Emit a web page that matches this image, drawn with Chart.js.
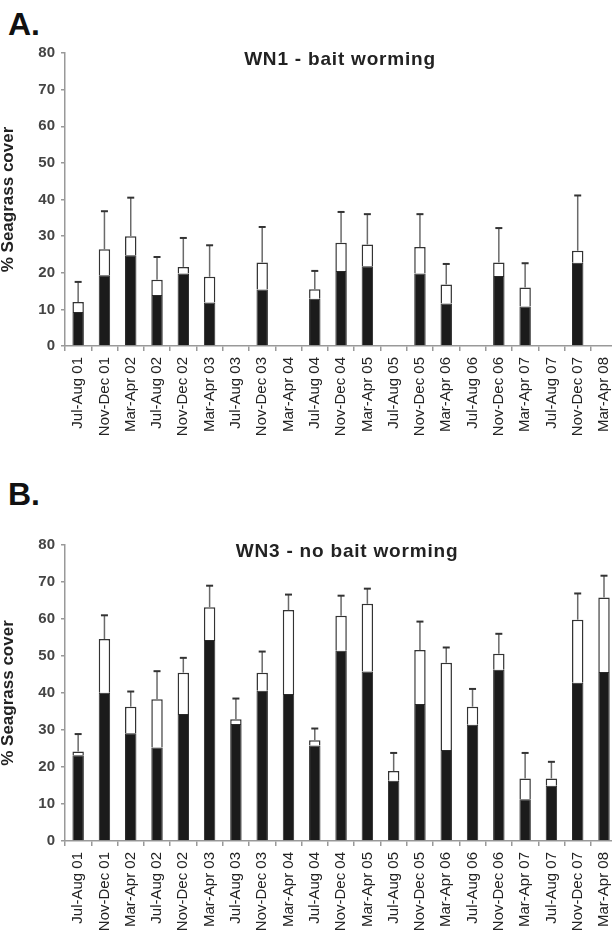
<!DOCTYPE html>
<html>
<head>
<meta charset="utf-8">
<title>Seagrass cover WN1 / WN3</title>
<script src="https://cdn.jsdelivr.net/npm/chart.js@4.4.1/dist/chart.umd.min.js"></script>
<style>
  html, body { margin: 0; padding: 0; background: #fff; width: 612px; height: 938px; overflow: hidden; position: relative; }
  .panel-letter { position: absolute; left: 8px; font: bold 32px "Liberation Sans", Arial, sans-serif; color: #111; }
  canvas { position: absolute; left: 0; }
</style>
</head>
<body>
<div class="panel-letter" style="top:6px">A.</div>
<div class="panel-letter" style="top:476px">B.</div>
<canvas id="chartA" width="628" height="465" style="top:0"></canvas>
<canvas id="chartB" width="628" height="468" style="top:470px"></canvas>

<script>
// |------------------------------- data -------------------------------|

var periods = ['Jul-Aug 01', 'Nov-Dec 01', 'Mar-Apr 02', 'Jul-Aug 02', 'Nov-Dec 02', 'Mar-Apr 03',
               'Jul-Aug 03', 'Nov-Dec 03', 'Mar-Apr 04', 'Jul-Aug 04', 'Nov-Dec 04', 'Mar-Apr 05',
               'Jul-Aug 05', 'Nov-Dec 05', 'Mar-Apr 06', 'Jul-Aug 06', 'Nov-Dec 06', 'Mar-Apr 07',
               'Jul-Aug 07', 'Nov-Dec 07', 'Mar-Apr 08'];
var yTicks = [0, 10, 20, 30, 40, 50, 60, 70, 80];

// WN1 - bait worming (black part, full bar height, error above the bar)
var wn1Lower = [9.3, 19.3, 24.8, 13.9, 19.8, 11.9, null, 15.4, null, 12.9, 20.5, 21.8, null, 19.8, 11.6, null, 19.1, 10.8, null, 22.7, null];
var wn1Upper = [12.0, 26.4, 30.0, 18.1, 21.6, 18.9, null, 22.8, null, 15.5, 28.2, 27.7, null, 27.0, 16.8, null, 22.8, 16.0, null, 26.0, null];
var wn1Error = [5.5, 10.4, 10.5, 6.2, 7.9, 8.6, null, 9.7, null, 5.0, 8.4, 8.3, null, 9.0, 5.6, null, 9.4, 6.6, null, 15.1, null];

// WN3 - no bait worming
var wn3Lower = [23.2, 40.1, 29.1, 25.3, 34.3, 54.3, 31.6, 40.6, 39.7, 25.8, 51.4, 45.8, 16.3, 37.0, 24.6, 31.4, 46.3, 11.3, 14.9, 42.8, 45.7];
var wn3Upper = [24.2, 54.6, 36.3, 38.3, 45.5, 63.2, 32.9, 45.5, 62.4, 27.2, 60.9, 64.1, 18.9, 51.6, 48.2, 36.3, 50.6, 16.9, 16.9, 59.8, 65.8];
var wn3Error = [4.7, 6.4, 4.1, 7.6, 4.0, 5.8, 5.6, 5.7, 4.2, 3.2, 5.4, 4.1, 4.9, 7.7, 4.1, 4.8, 5.4, 6.9, 4.5, 7.1, 5.9];

var FONT = '"Liberation Sans", Arial, sans-serif';

// |------------------------------- plugins -------------------------------|

// error bars drawn upward from the top of each stacked bar
var errorBars = {
  id: 'errorBars',
  afterDatasetsDraw: function (chart, args, opts) {
    var ctx = chart.ctx, x = chart.scales.x, y = chart.scales.y;
    ctx.save();
    opts.upper.forEach(function (v, i) {
      if (v == null) return;
      var px = x.getPixelForValue(i);
      var y0 = y.getPixelForValue(v);
      var y1 = y.getPixelForValue(v + opts.error[i]);
      ctx.strokeStyle = '#6a6a6a';
      ctx.lineWidth = 1.5;
      ctx.beginPath(); ctx.moveTo(px, y0); ctx.lineTo(px, y1); ctx.stroke();
      ctx.strokeStyle = '#333';
      ctx.lineWidth = 2;
      ctx.beginPath(); ctx.moveTo(px - 3.5, y1); ctx.lineTo(px + 3.5, y1); ctx.stroke();
    });
    ctx.restore();
  }
};

// site title written inside the plot area
var panelTitle = {
  id: 'panelTitle',
  afterDraw: function (chart, args, opts) {
    var ctx = chart.ctx;
    ctx.save();
    ctx.font = 'bold 19px ' + FONT;
    ctx.letterSpacing = '0.8px';
    ctx.fillStyle = '#222';
    ctx.textAlign = 'center';
    ctx.textBaseline = 'middle';
    ctx.fillText(opts.text, opts.x, chart.chartArea.top + 7);
    ctx.restore();
  }
};

// |------------------------------- chart builder -------------------------------|

function drawPanel(id, title, titleX, lower, upper, error, padTop, xHeight) {
  var extra = upper.map(function (v, i) { return v == null ? null : +(v - lower[i]).toFixed(1); });

  return new Chart(document.getElementById(id), {
    type: 'bar',
    data: {
      labels: periods,
      datasets: [{
        label: 'lower',
        data: lower,
        backgroundColor: '#1b1b1b',
        borderColor: '#2a2a2a',
        borderWidth: 1,
        barPercentage: 0.87,
        categoryPercentage: 0.5
      }, {
        label: 'upper',
        data: extra,
        backgroundColor: '#ffffff',
        borderColor: '#333',
        borderWidth: 1.5,
        borderSkipped: 'start',
        barPercentage: 0.87,
        categoryPercentage: 0.5
      }]
    },
    options: {
      responsive: false,
      animation: false,
      layout: { padding: { top: padTop, left: 0, right: 0, bottom: 0 } },
      scales: {
        x: {
          stacked: true,
          offset: true,
          grid: { display: true, drawOnChartArea: false, offset: true, tickLength: 5, color: '#999', lineWidth: 1.5 },
          border: { color: '#999', width: 1.5 },
          ticks: {
            autoSkip: false, minRotation: 90, maxRotation: 90, padding: 6,
            color: '#222', font: { family: FONT, size: 15 }
          },
          afterFit: function (s) { s.height = xHeight; }
        },
        y: {
          stacked: true,
          min: 0,
          max: 80,
          afterBuildTicks: function (s) { s.ticks = yTicks.map(function (v) { return { value: v }; }); },
          grid: { drawOnChartArea: false, tickLength: 4, color: '#999', lineWidth: 1.5 },
          border: { color: '#999', width: 1.5 },
          ticks: { padding: 6, color: '#444', font: { family: FONT, size: 15, weight: 'bold' } },
          title: {
            display: true, text: '% Seagrass cover', color: '#222', padding: 0,
            font: { family: FONT, size: 17, weight: 'bold', lineHeight: 1 }
          },
          afterFit: function (s) { s.width = 65; }
        }
      },
      plugins: {
        legend: { display: false },
        tooltip: { enabled: false },
        errorBars: { upper: upper, error: error },
        panelTitle: { text: title, x: titleX }
      }
    },
    plugins: [errorBars, panelTitle]
  });
}

drawPanel('chartA', 'WN1 - bait worming', 340, wn1Lower, wn1Upper, wn1Error, 53, 119);
drawPanel('chartB', 'WN3 - no bait worming', 347, wn3Lower, wn3Upper, wn3Error, 75, 97);
</script>
</body>
</html>
